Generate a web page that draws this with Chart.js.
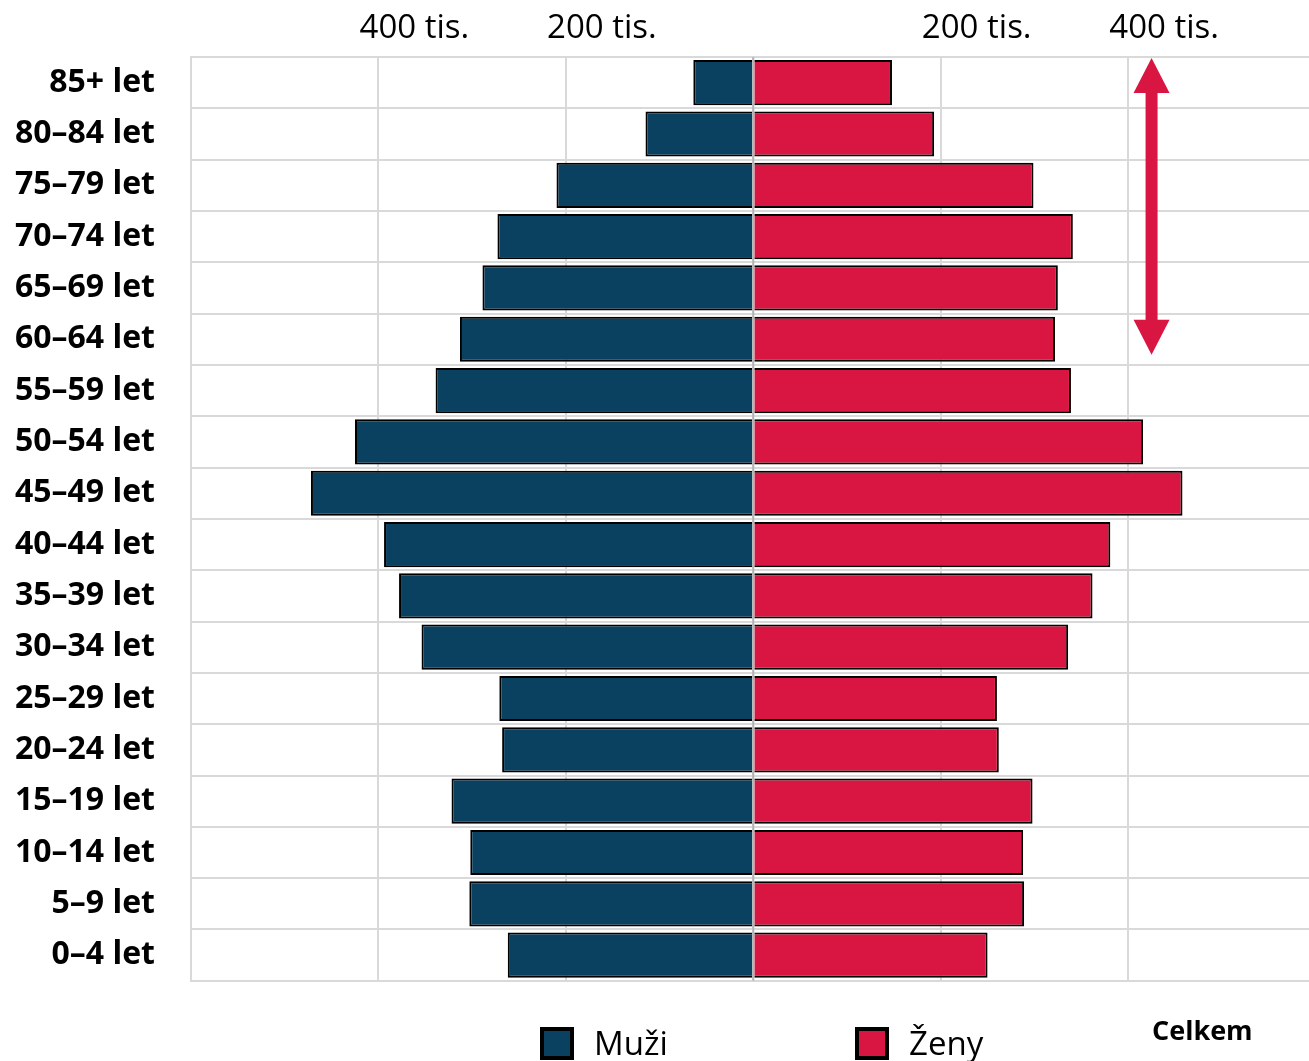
<!DOCTYPE html>
<html lang="cs">
<head>
<meta charset="utf-8">
<title>Věková struktura obyvatel</title>
<script src="https://cdn.jsdelivr.net/npm/chart.js@4"></script>
<style>
  html, body { margin: 0; padding: 0; background: #fff; }
  #wrap { position: relative; width: 1309px; height: 1061px; font-family: "Open Sans", sans-serif; overflow: hidden; }
  #chartBox { position: absolute; left: 0; top: 0; width: 1309px; height: 1036px; }
  .legend-item { position: absolute; line-height: 1; color: #000; white-space: nowrap; }
  .legend-box { position: absolute; width: 34px; height: 33px; box-sizing: border-box; border: 4px solid #000; }
  .legend-text { position: absolute; font-size: 33px; }
  #celkem { font-size: 27px; font-weight: bold; }
</style>
</head>
<body>
<div id="wrap">
  <div id="chartBox"><canvas id="pyramid"></canvas></div>
  <div class="legend-box" style="left:540px; top:1027px; background:#0b4160;"></div>
  <div class="legend-item legend-text" style="left:594px; top:1026px;">Muži</div>
  <div class="legend-box" style="left:855px; top:1027px; background:#d91641;"></div>
  <div class="legend-item legend-text" style="left:909px; top:1026px;">Ženy</div>
  <div class="legend-item" id="celkem" style="left:1152px; top:1016px;">Celkem</div>
</div>
<script>
// age groups, oldest at the top
const ageGroups = [
  "85+ let", "80–84 let", "75–79 let", "70–74 let", "65–69 let", "60–64 let",
  "55–59 let", "50–54 let", "45–49 let", "40–44 let", "35–39 let", "30–34 let",
  "25–29 let", "20–24 let", "15–19 let", "10–14 let", "5–9 let", "0–4 let"
];

// population in thousands
const men = [64, 115, 210, 273, 289, 313, 339, 425, 472, 394, 378, 354, 271, 268, 322, 302, 303, 262];
const women = [148, 193, 299, 341, 325, 322, 339, 416, 458, 381, 362, 336, 260, 262, 298, 288, 289, 250];

// axis ticks (thousands), shown without sign
const xTicks = [-400, -200, 0, 200, 400];

const menColor = "#0b4160";
const womenColor = "#d91641";
const gridColor = "#d9d9d9";

// thin gray line at zero, drawn over the bars
const zeroLine = {
  id: "zeroLine",
  afterDatasetsDraw(chart) {
    const { ctx, chartArea, scales } = chart;
    const x = scales.x.getPixelForValue(0);
    ctx.save();
    ctx.strokeStyle = "#b3b3b3";
    ctx.lineWidth = 2;
    ctx.beginPath();
    ctx.moveTo(x, chartArea.top);
    ctx.lineTo(x, chartArea.bottom);
    ctx.stroke();
    ctx.restore();
  }
};

// double-headed arrow beside the older age groups
const sideArrow = {
  id: "sideArrow",
  afterDraw(chart) {
    const { ctx, scales } = chart;
    const y = scales.y;
    const row = y.getPixelForValue(1) - y.getPixelForValue(0);
    const x = scales.x.getPixelForValue(425);
    const top = y.getPixelForValue(0) - row / 2 + 1;
    const bottom = y.getPixelForValue(5) + row * 0.3;
    const shaft = 12, headW = 36, headL = 35;
    ctx.save();
    ctx.fillStyle = womenColor;
    ctx.fillRect(x - shaft / 2, top + headL - 1, shaft, bottom - top - 2 * headL + 2);
    ctx.beginPath();
    ctx.moveTo(x, top);
    ctx.lineTo(x + headW / 2, top + headL);
    ctx.lineTo(x - headW / 2, top + headL);
    ctx.closePath();
    ctx.fill();
    ctx.beginPath();
    ctx.moveTo(x, bottom);
    ctx.lineTo(x + headW / 2, bottom - headL);
    ctx.lineTo(x - headW / 2, bottom - headL);
    ctx.closePath();
    ctx.fill();
    ctx.restore();
  }
};

new Chart(document.getElementById("pyramid"), {
  type: "bar",
  data: {
    labels: ageGroups,
    datasets: [
      {
        label: "Muži",
        data: men.map(v => -v),
        backgroundColor: menColor,
        borderColor: "#000",
        borderWidth: 2
      },
      {
        label: "Ženy",
        data: women,
        backgroundColor: womenColor,
        borderColor: "#000",
        borderWidth: 2
      }
    ]
  },
  options: {
    indexAxis: "y",
    responsive: true,
    maintainAspectRatio: false,
    animation: false,
    layout: { padding: { left: 0, right: 0, top: 0, bottom: 9 } },
    datasets: {
      bar: { categoryPercentage: 1, barPercentage: 0.88 }
    },
    plugins: {
      legend: { display: false },
      tooltip: { enabled: false }
    },
    scales: {
      x: {
        position: "top",
        stacked: true,
        min: -600,
        max: 593,
        afterBuildTicks(scale) {
          scale.ticks = xTicks.map(v => ({ value: v }));
        },
        afterFit(scale) {
          scale.height = 57;
        },
        grid: { color: gridColor, lineWidth: 2, drawTicks: false },
        border: { color: gridColor, width: 2 },
        ticks: {
          color: "#000",
          padding: 9,
          labelOffset: 36,
          maxRotation: 0,
          font: { family: "'Open Sans'", size: 33 },
          callback: v => (v === 0 ? "" : Math.abs(v) + " tis.")
        }
      },
      y: {
        stacked: true,
        afterFit(scale) {
          scale.width = 191;
        },
        grid: { color: gridColor, lineWidth: 2, drawTicks: false },
        border: { color: gridColor, width: 2 },
        ticks: {
          color: "#000",
          padding: 36,
          font: { family: "'Open Sans'", size: 32, weight: "bold" }
        }
      }
    }
  },
  plugins: [zeroLine, sideArrow]
});
</script>
</body>
</html>
